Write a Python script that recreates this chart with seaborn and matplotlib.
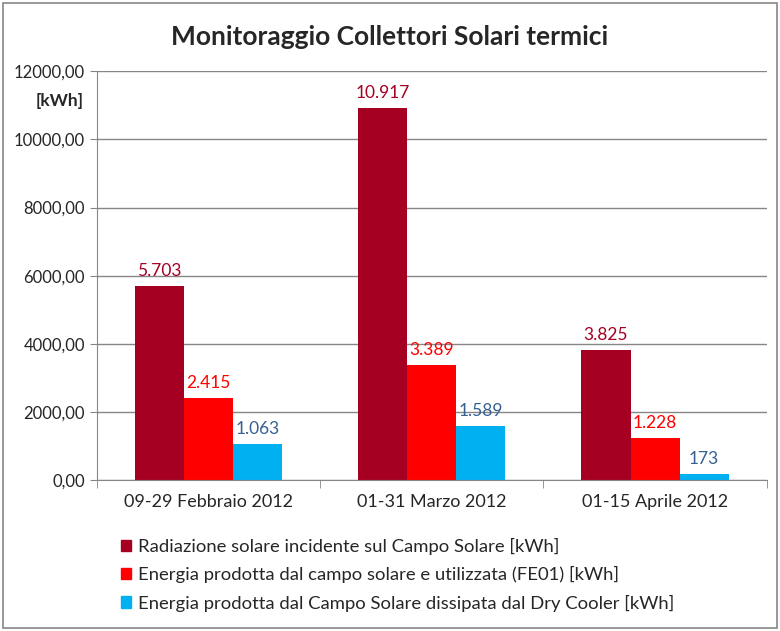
import matplotlib
matplotlib.use("Agg")
import matplotlib.pyplot as plt
from matplotlib.patches import Rectangle
import seaborn as sns
import pandas as pd

# dati
periodi = ['09-29 Febbraio 2012', '01-31 Marzo 2012', '01-15 Aprile 2012']
serie = ['Radiazione solare incidente sul Campo Solare [kWh]',
         'Energia prodotta dal campo solare e utilizzata (FE01) [kWh]',
         'Energia prodotta dal Campo Solare dissipata dal Dry Cooler [kWh]']
radiazione = [5703, 10917, 3825]
utilizzata = [2415, 3389, 1228]
dissipata = [1063, 1589, 173]
y_ticks = [0, 2000, 4000, 6000, 8000, 10000, 12000]

colori = ['#A50021', '#FF0000', '#00B0F0']
colori_etichette = ['#A50021', '#FF0000', '#376092']

righe = []
for s, valori in zip(serie, [radiazione, utilizzata, dissipata]):
    for p, v in zip(periodi, valori):
        righe.append({'Periodo': p, 'Serie': s, 'Valore': v})
df = pd.DataFrame(righe)

sns.set_style('white')
plt.rcParams['font.family'] = ['Lato', 'DejaVu Sans']

fig = plt.figure(figsize=(7.8, 6.31), dpi=100)
ax = fig.add_axes([0.124, 0.239, 0.859, 0.648])

sns.barplot(data=df, x='Periodo', y='Valore', hue='Serie', order=periodi,
            hue_order=serie, palette=colori, width=0.66, gap=0,
            saturation=1, errorbar=None, ax=ax, legend=False,
            linewidth=0, edgecolor='none')

# etichette dati
for cont, col in zip(ax.containers, colori_etichette):
    etichette = [f'{int(v):,}'.replace(',', '.') for v in cont.datavalues]
    ax.bar_label(cont, labels=etichette, color=col, fontsize=12.5, padding=5)

ax.set_ylim(0, 12000)
ax.set_yticks(y_ticks)
ax.set_yticklabels([f'{t},00' for t in y_ticks], fontsize=12)
ax.set_xlim(-0.5, 2.5)
ax.set_xlabel('')
ax.set_ylabel('')
ax.tick_params(axis='x', labelsize=13, length=0, pad=10)
ax.tick_params(axis='y', length=5, color='#868686', direction='out', left=True)
ax.yaxis.grid(True, color='#868686', linewidth=1)
ax.set_axisbelow(True)
for lato in ['top', 'right']:
    ax.spines[lato].set_visible(False)
for lato in ['left', 'bottom']:
    ax.spines[lato].set_color('#868686')
# tacche ai confini delle categorie
ax.set_xticks([-0.5, 0.5, 1.5, 2.5], minor=True)
ax.tick_params(axis='x', which='minor', length=6, color='#868686', direction='out', bottom=True)

fig.text(0.5, 0.941, 'Monitoraggio Collettori Solari termici', ha='center', va='center',
         fontsize=19, fontweight='bold')
fig.text(0.107, 0.84, '[kWh]', ha='right', va='center', fontsize=12.5, fontweight='bold')

# legenda
maniglie = [Rectangle((0, 0), 1, 1, color=c) for c in colori]
fig.legend(maniglie, serie, loc='upper left', bbox_to_anchor=(0.155, 0.148),
           frameon=False, fontsize=13.3, handlelength=0.55, handleheight=0.55,
           handletextpad=0.4, labelspacing=0.62, borderaxespad=0, borderpad=0)

# bordo esterno
fig.patches.append(Rectangle((0.004, 0.005), 0.992, 0.99, transform=fig.transFigure,
                             fill=False, edgecolor='#868686', linewidth=1.2))

fig.savefig('out.png', dpi=100)
